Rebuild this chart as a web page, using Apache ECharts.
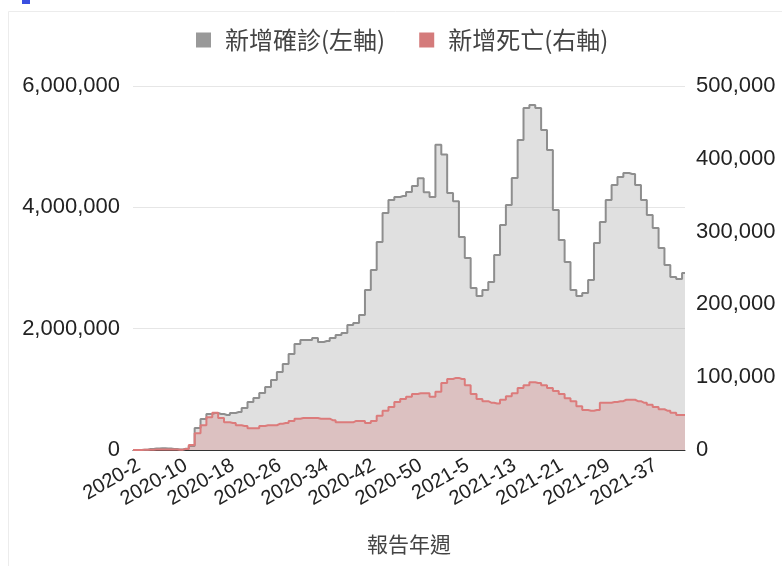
<!DOCTYPE html>
<html>
<head>
<meta charset="utf-8">
<script src="https://cdn.jsdelivr.net/npm/echarts@6/dist/echarts.min.js"></script>
<style>
  html, body { margin: 0; padding: 0; background: #fff; }
  #main { width: 782px; height: 566px; }
</style>
</head>
<body>
<div id="main"></div>
<script>
// weeks 2020-1 .. 2021-42
var weeks2020 = 53;
var weeks2021 = 42;
var weekLabels = [];
for (var w = 1; w <= weeks2020; w++) weekLabels.push('2020-' + w);
for (var w2 = 1; w2 <= weeks2021; w2++) weekLabels.push('2021-' + w2);

// 新增確診 (左軸)
var newCases = [
    0, 2000, 5000, 15000, 25000, 30000, 25000, 15000, 8000, 20000,
    66000, 363000, 511000, 593000, 610000, 593000, 577000, 610000, 626000, 692000,
    791000, 857000, 940000, 1038000, 1154000, 1286000, 1418000, 1582000, 1747000, 1813000,
    1813000, 1846000, 1780000, 1797000, 1846000, 1896000, 1929000, 2060000, 2093000, 2225000,
    2637000, 2967000, 3429000, 3907000, 4121000, 4170000, 4187000, 4253000, 4352000, 4480000,
    4250000, 4170000, 5030000, 4870000, 4236000, 4100000, 3511000, 3165000, 2670000, 2538000,
    2637000, 2769000, 3214000, 3709000, 4039000, 4484000, 5110000, 5637000, 5687000, 5637000,
    5275000, 4945000, 3956000, 3462000, 3099000, 2637000, 2538000, 2588000, 2802000, 3412000,
    3758000, 4121000, 4368000, 4500000, 4566000, 4550000, 4368000, 4121000, 3874000, 3660000,
    3330000, 3050000, 2852000, 2819000, 2918000
];

// 新增死亡 (右軸)
var newDeaths = [
    0, 100, 200, 300, 600, 700, 800, 600, 500, 1500,
    6900, 23000, 34000, 45000, 51000, 44000, 38000, 37000, 34000, 33000,
    30000, 30000, 33000, 34000, 34000, 36000, 37000, 40000, 43000, 44000,
    44000, 44000, 43000, 43000, 41000, 38000, 38000, 38000, 40000, 40000,
    37000, 40000, 47000, 54000, 59000, 66000, 70000, 73000, 77000, 78000,
    78000, 73000, 80000, 92000, 97500, 99000, 97500, 89000, 77000, 70000,
    67000, 65000, 64000, 69000, 74000, 78000, 85000, 89000, 93000, 92000,
    89000, 85000, 81000, 77000, 71000, 67000, 60000, 55000, 54000, 55000,
    65000, 65000, 66000, 67000, 69000, 69000, 67000, 65000, 62000, 59000,
    56000, 54000, 51000, 48000, 48000
];

var seriesNames = ['新增確診(左軸)', '新增死亡(右軸)'];
var leftTicks = [0, 2000000, 4000000, 6000000];
var rightTicks = [0, 100000, 200000, 300000, 400000, 500000];

var fmt = function (v) {
    return String(v).replace(/\B(?=(\d{3})+(?!\d))/g, ',');
};

var cjk = '"Noto Sans CJK TC", sans-serif';

var myChart = echarts.init(document.getElementById('main'), null, { renderer: 'canvas' });
var option = {
    backgroundColor: '#fff',
    animation: false,
    textStyle: { fontFamily: 'Liberation Sans, "Noto Sans CJK TC", sans-serif' },
    graphic: [
        {
            type: 'rect',
            shape: { x: 8.5, y: 11.5, width: 800, height: 600 },
            style: { fill: 'none', stroke: '#ececec', lineWidth: 1 },
            z: -10
        },
        {
            type: 'rect',
            shape: { x: 22, y: 0, width: 8, height: 4 },
            style: { fill: '#3a4fe0' }
        }
    ],
    legend: {
        top: 23,
        left: 191,
        itemWidth: 15,
        itemHeight: 15,
        itemGap: 34,
        icon: 'rect',
        textStyle: { fontSize: 24, color: '#444', fontFamily: cjk, padding: [0, 0, 0, 9] },
        data: seriesNames
    },
    grid: { left: 133, right: 97, top: 86, bottom: 116 },
    xAxis: {
        type: 'category',
        data: weekLabels,
        boundaryGap: false,
        name: '報告年週',
        nameLocation: 'middle',
        nameGap: 84,
        nameTextStyle: { fontSize: 21, color: '#444', fontFamily: cjk },
        axisLine: { lineStyle: { color: '#333', width: 1 } },
        axisTick: { show: false },
        axisLabel: {
            interval: function (i) { return i % 8 === 1; },
            rotate: 30,
            fontSize: 20,
            color: '#222',
            margin: 14
        },
        splitLine: { show: false }
    },
    yAxis: [
        {
            type: 'value',
            min: 0,
            max: leftTicks[leftTicks.length - 1],
            interval: 2000000,
            axisLine: { show: false },
            axisTick: { show: false },
            axisLabel: { fontSize: 22, color: '#222', margin: 13, formatter: fmt },
            splitLine: { lineStyle: { color: '#e6e6e6' } }
        },
        {
            type: 'value',
            min: 0,
            max: rightTicks[rightTicks.length - 1],
            interval: 100000,
            axisLine: { show: false },
            axisTick: { show: false },
            axisLabel: { fontSize: 22, color: '#222', margin: 11, formatter: fmt },
            splitLine: { show: false }
        }
    ],
    series: [
        {
            name: seriesNames[0],
            type: 'line',
            yAxisIndex: 0,
            data: newCases,
            step: 'middle',
            symbol: 'none',
            color: '#999999',
            lineStyle: { color: '#8e8e8e', width: 2 },
            areaStyle: { color: '#999999', opacity: 0.3 },
            z: 2
        },
        {
            name: seriesNames[1],
            type: 'line',
            yAxisIndex: 1,
            data: newDeaths,
            step: 'middle',
            symbol: 'none',
            color: '#d47b7b',
            lineStyle: { color: '#dc7b7b', width: 2 },
            areaStyle: { color: '#d47b7b', opacity: 0.3 },
            z: 3
        }
    ]
};
myChart.setOption(option);
</script>
</body>
</html>
